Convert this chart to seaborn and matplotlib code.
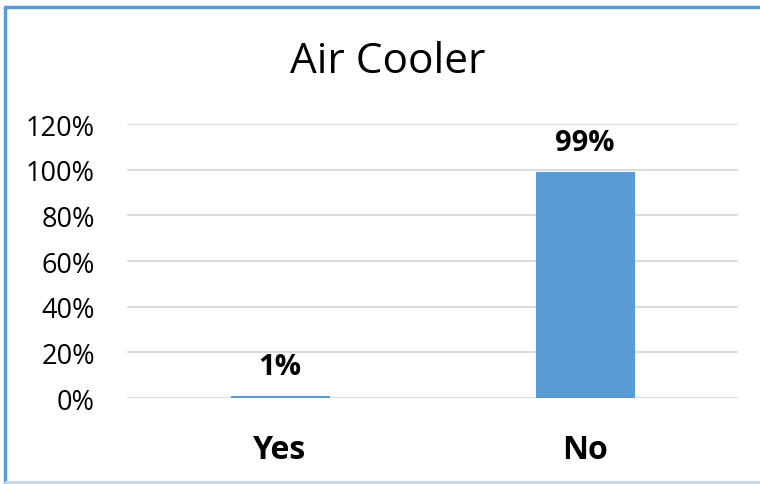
import matplotlib
matplotlib.use('Agg')
import matplotlib.pyplot as plt
import seaborn as sns
from matplotlib.lines import Line2D
from matplotlib.ticker import PercentFormatter

# Chart data
categories = ['Yes', 'No']
shares = [0.01, 0.99]
y_ticks = [0.0, 0.2, 0.4, 0.6, 0.8, 1.0, 1.2]
title = 'Air Cooler'

bar_color = '#5B9BD5'
grid_color = '#D9D9D9'

sns.set_style('white')
plt.rcParams['font.family'] = ['Open Sans', 'DejaVu Sans']

fig = plt.figure(figsize=(7.6, 4.85), dpi=100)
ax = fig.add_axes([0.167, 0.177, 0.804, 0.565])
ax.set_axisbelow(True)

sns.barplot(x=categories, y=shares, color=bar_color, width=0.32,
            saturation=1, edgecolor=bar_color, linewidth=0.8, ax=ax)

ax.set_ylim(0, 1.2)
ax.set_xlim(-0.5, 1.5)
ax.set_yticks(y_ticks)
ax.yaxis.set_major_formatter(PercentFormatter(1.0, decimals=0))
ax.grid(axis='y', color=grid_color, linewidth=1.3)
ax.tick_params(axis='y', length=0, pad=23, labelsize=19.5, labelcolor='black')
ax.tick_params(axis='x', length=0, pad=25, labelsize=23, labelcolor='black')
for lbl in ax.get_xticklabels():
    lbl.set_fontweight('bold')
for side in ['top', 'right', 'left', 'bottom']:
    ax.spines[side].set_visible(False)
ax.set_xlabel('')
ax.set_ylabel('')

# Data labels
for cont in ax.containers:
    ax.bar_label(cont, labels=[f'{v:.0%}' for v in shares], padding=11,
                 fontsize=21, fontweight='bold', color='black')

fig.text(0.51, 0.872, title, ha='center', va='center', fontsize=30.5, color='black')

# Chart-area border (left and top dark, bottom light)
fig.add_artist(Line2D([0.007, 0.007], [0.004, 0.984], color=bar_color, linewidth=2.5))
fig.add_artist(Line2D([0.007, 1.0], [0.984, 0.984], color=bar_color, linewidth=2.5))
fig.add_artist(Line2D([0.007, 1.0], [0.004, 0.004], color='#BDD7EE', linewidth=2))

fig.savefig('out.png', dpi=100)
